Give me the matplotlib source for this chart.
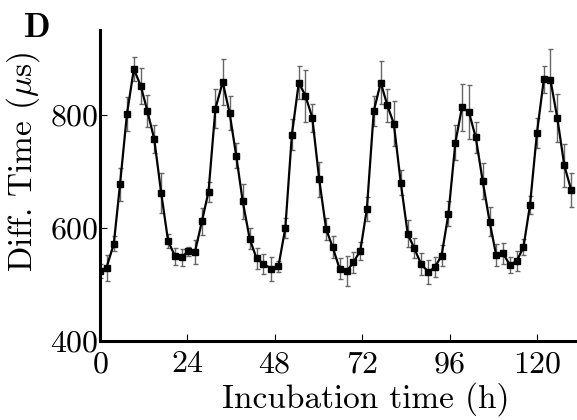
import matplotlib
matplotlib.use("Agg")
import matplotlib.pyplot as plt
import numpy as np

# sampling times (h), mean diff. time (us) and error
hours = [0.0, 1.8, 3.8, 5.5, 7.4, 9.3, 11.2, 13.0, 14.9, 16.8, 18.7, 20.6, 22.4, 24.3,
         26.1, 28.0, 29.8, 31.7, 33.7, 35.6, 37.4, 39.2, 41.1, 43.0, 44.9, 47.1, 49.0, 50.9,
         52.7, 54.6, 56.4, 58.3, 60.2, 62.1, 63.9, 65.8, 67.8, 69.6, 71.5, 73.3, 75.2, 77.1,
         78.9, 80.7, 82.6, 84.5, 86.3, 88.2, 90.2, 92.0, 93.8, 95.7, 97.6, 99.4, 101.3, 103.2,
         105.1, 107.0, 108.8, 110.7, 112.6, 114.5, 116.3, 118.1, 120.0, 121.9, 123.7, 125.6, 127.5, 129.4]
diff_time = [524, 530, 572, 677, 801, 881, 851, 807, 757, 662, 577, 550, 548, 559,
             558, 612, 664, 811, 858, 803, 728, 647, 581, 546, 536, 528, 532, 600,
             765, 857, 834, 795, 686, 598, 566, 528, 524, 539, 560, 634, 807, 857,
             817, 784, 680, 590, 564, 536, 522, 531, 551, 625, 751, 813, 805, 760,
             683, 611, 552, 555, 534, 542, 566, 641, 768, 863, 862, 794, 711, 667]
err = [12, 23, 13, 29, 30, 21, 32, 28, 25, 36, 12, 15, 15, 8,
       21, 24, 18, 35, 41, 30, 22, 31, 18, 18, 18, 21, 10, 18,
       27, 29, 46, 25, 31, 19, 19, 19, 26, 18, 16, 21, 26, 38,
       29, 40, 22, 24, 18, 20, 21, 18, 18, 22, 31, 42, 48, 28,
       31, 26, 19, 19, 14, 18, 14, 16, 27, 24, 55, 42, 38, 30]

xticks = [0, 24, 48, 72, 96, 120]
yticks = [400, 600, 800]

plt.rcParams['font.family'] = 'cmr10'
plt.rcParams['mathtext.fontset'] = 'cm'
plt.rcParams['axes.formatter.use_mathtext'] = True

fig = plt.figure(figsize=(5.77, 4.20), dpi=100)
ax = fig.add_axes([0.1733, 0.188, 0.8267, 0.7406])

ax.errorbar(hours, diff_time, yerr=err, color='black', lw=1.6, marker='s', ms=4.6,
            ecolor='#666666', elinewidth=1.0, capsize=1.8, capthick=1.0)

ax.set_xlim(0, 131)
ax.set_ylim(400, 950)
ax.set_xticks(xticks)
ax.set_yticks(yticks)
ax.tick_params(direction='in', length=5, width=0.8, labelsize=23)
ax.tick_params(axis='x', pad=7)
ax.tick_params(axis='y', pad=1)

for side in ['top', 'right']:
    ax.spines[side].set_visible(False)
for side in ['left', 'bottom']:
    ax.spines[side].set_linewidth(2.2)

# labels sit a little off-centre in the original
ax.set_xlabel('Incubation time (h)', fontsize=24)
ax.xaxis.set_label_coords(0.558, -0.132)
ax.set_ylabel(r'Diff. Time ($\mu$s)', fontsize=24)
ax.yaxis.set_label_coords(-0.122, 0.575)

fig.text(0.042, 0.933, 'D', family='cmb10', fontsize=25, va='center', ha='left')

fig.savefig('out.png', dpi=100)
